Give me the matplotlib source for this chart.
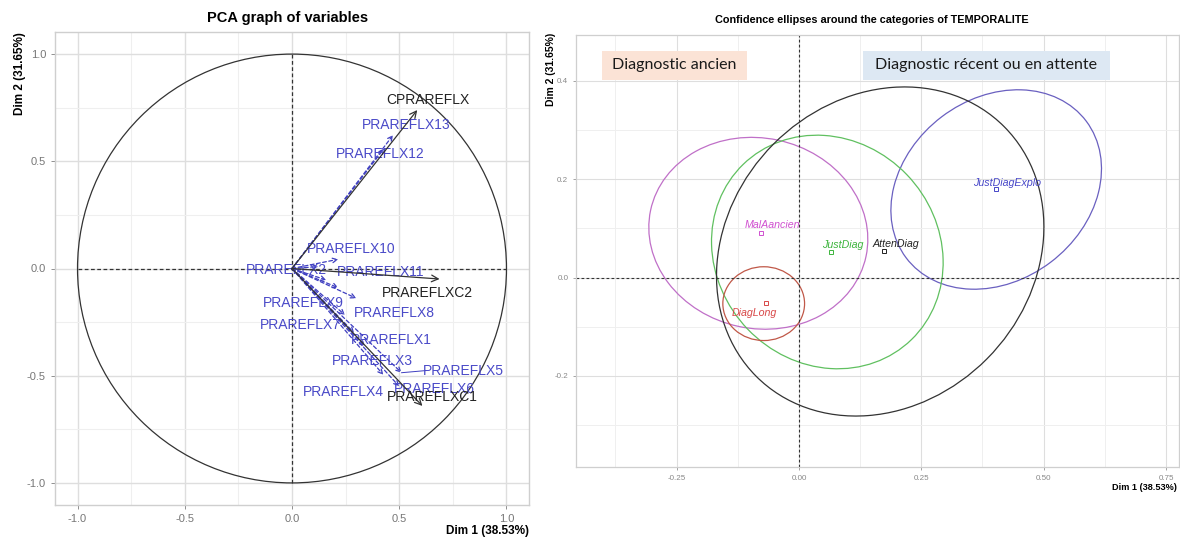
import numpy as np
import matplotlib
matplotlib.use("Agg")
import matplotlib.pyplot as plt
from matplotlib.patches import Ellipse, Circle, Rectangle

plt.rcParams['font.family'] = ['Liberation Sans', 'DejaVu Sans']

# ---------------- Left panel data: PCA graph of variables ----------------
active_names = ["CPRAREFLX", "PRAREFLXC2", "PRAREFLXC1"]
active_x = [0.584, 0.688, 0.608]
active_y = [0.739, -0.049, -0.641]
active_lab_x = [0.632, 0.632, 0.656]
active_lab_y = [0.786, -0.113, -0.598]

sup_names = ["PRAREFLX13", "PRAREFLX12", "PRAREFLX10", "PRAREFLX2", "PRAREFLX11",
             "PRAREFLX9", "PRAREFLX8", "PRAREFLX7", "PRAREFLX1", "PRAREFLX3",
             "PRAREFLX5", "PRAREFLX4", "PRAREFLX6"]
sup_x = [0.471, 0.430, 0.216, 0.123, 0.160, 0.216, 0.300, 0.247, 0.290, 0.340, 0.511, 0.426, 0.500]
sup_y = [0.622, 0.560, 0.043, 0.009, -0.054, -0.090, -0.139, -0.217, -0.300, -0.364, -0.486, -0.496, -0.550]
sup_lab_x = [0.532, 0.412, 0.278, -0.025, 0.415, 0.053, 0.479, 0.037, 0.463, 0.375, 0.800, 0.238, 0.664]
sup_lab_y = [0.669, 0.534, 0.091, -0.007, -0.015, -0.162, -0.209, -0.263, -0.333, -0.430, -0.476, -0.577, -0.562]

# ---------------- Right panel data: confidence ellipses ----------------
cat_names = ["JustDiagExplo", "MalAancien", "JustDiag", "AttenDiag", "DiagLong"]
cat_x = [0.402, -0.078, 0.065, 0.173, -0.067]
cat_y = [0.179, 0.090, 0.052, 0.054, -0.051]
cat_lab_x = [0.426, -0.054, 0.089, 0.198, -0.091]
cat_lab_y = [0.193, 0.107, 0.067, 0.069, -0.072]
ell_cx = [0.403, -0.083, 0.058, 0.166, -0.072]
ell_cy = [0.179, 0.090, 0.052, 0.053, -0.053]
ell_w = [0.461, 0.450, 0.495, 0.717, 0.167]
ell_h = [0.370, 0.387, 0.452, 0.617, 0.150]
ell_angle = [37, -12, -46, 45, 0]
cat_colors = ["#4646c8", "#d050d0", "#3cb43c", "#222222", "#d84848"]
ell_colors = ["#6a60c0", "#c070c8", "#60c060", "#333333", "#c05848"]

box_labels = ["Diagnostic ancien", "Diagnostic récent ou en attente"]

W, H = 1180, 542
fig = plt.figure(figsize=(W / 100, H / 100), dpi=100)
fig.patch.set_facecolor("white")


def px_axes(l, t, r, b):
    return fig.add_axes([l / W, (H - b) / H, (r - l) / W, (b - t) / H])


grid_major = "#dedede"
grid_minor = "#efefef"
border = "#cfcfcf"
tick_col = "#7f7f7f"

# ---------------- Left panel ----------------
ax = px_axes(55, 32, 529, 505)
ax.set_xlim(-1.105, 1.105)
ax.set_ylim(-1.103, 1.103)
ax.set_xticks([-1.0, -0.5, 0.0, 0.5, 1.0])
ax.set_yticks([-1.0, -0.5, 0.0, 0.5, 1.0])
ax.set_xticks([-0.75, -0.25, 0.25, 0.75], minor=True)
ax.set_yticks([-0.75, -0.25, 0.25, 0.75], minor=True)
ax.grid(which="major", color=grid_major, lw=1.0)
ax.grid(which="minor", color=grid_minor, lw=0.8)
ax.set_axisbelow(True)
ax.tick_params(which="major", colors=tick_col, labelsize=8, length=3, width=0.6, labelcolor="#777777")
ax.tick_params(which="minor", length=0)
ax.set_xticklabels(["-1.0", "-0.5", "0.0", "0.5", "1.0"])
ax.set_yticklabels(["-1.0", "-0.5", "0.0", "0.5", "1.0"])
for s in ax.spines.values():
    s.set_color(border)
    s.set_linewidth(1.0)

ax.add_patch(Circle((0, 0), 1.0, fill=False, color="#333333", lw=0.9))
ax.plot([-1, 1], [0, 0], ls=(0, (3, 2)), color="#333333", lw=0.9)
ax.plot([0, 0], [-1, 1], ls=(0, (3, 2)), color="#333333", lw=0.9)

sup_col = "#3e3ec0"
for x, y in zip(sup_x, sup_y):
    ax.annotate("", xy=(x, y), xytext=(0, 0),
                arrowprops=dict(arrowstyle="->", color=sup_col, lw=0.9,
                                linestyle=(0, (3, 2)), shrinkA=0, shrinkB=0,
                                mutation_scale=8))
for n, x, y in zip(sup_names, sup_lab_x, sup_lab_y):
    ax.text(x, y, n, color="#4a4ac8", fontsize=10, ha="center", va="center")
# segment for PRAREFLX5 label
ax.plot([sup_x[10], sup_lab_x[10] - 0.175], [sup_y[10], sup_lab_y[10]], color=sup_col, lw=0.7)

for x, y in zip(active_x, active_y):
    ax.annotate("", xy=(x, y), xytext=(0, 0),
                arrowprops=dict(arrowstyle="->", color="#333333", lw=0.9,
                                shrinkA=0, shrinkB=0, mutation_scale=12))
for n, x, y in zip(active_names, active_lab_x, active_lab_y):
    ax.text(x, y, n, color="#222222", fontsize=10, ha="center", va="center")

fig.text(288 / W, 1 - 18 / H, "PCA graph of variables", fontsize=10.5, fontweight="bold",
         ha="center", va="center")
fig.text(20 / W, 1 - 32 / H, "Dim 2 (31.65%)", fontsize=8.5, fontweight="bold",
         rotation=90, ha="center", va="top")
fig.text(529 / W, 1 - 531 / H, "Dim 1 (38.53%)", fontsize=8.5, fontweight="bold",
         ha="right", va="center")

# ---------------- Right panel ----------------
ax2 = px_axes(576, 35, 1179, 467)
ax2.set_xlim(-0.4555, 0.7765)
ax2.set_ylim(-0.385, 0.493)
ax2.set_xticks([-0.25, 0.0, 0.25, 0.5, 0.75])
ax2.set_xticklabels(["-0.25", "0.00", "0.25", "0.50", "0.75"])
ax2.set_yticks([-0.2, 0.0, 0.2, 0.4])
ax2.set_yticklabels(["-0.2", "0.0", "0.2", "0.4"])
ax2.set_xticks([-0.375, -0.125, 0.125, 0.375, 0.625], minor=True)
ax2.set_yticks([-0.3, -0.1, 0.1, 0.3], minor=True)
ax2.grid(which="major", color=grid_major, lw=0.8)
ax2.grid(which="minor", color=grid_minor, lw=0.7)
ax2.set_axisbelow(True)
ax2.tick_params(which="major", colors=tick_col, labelsize=5.8, length=2, width=0.5, labelcolor="#888888")
ax2.tick_params(which="minor", length=0)
for s in ax2.spines.values():
    s.set_color(border)
    s.set_linewidth(0.9)

ax2.axhline(0, ls=(0, (2.5, 2)), color="#333333", lw=0.8)
ax2.axvline(0, ls=(0, (2.5, 2)), color="#333333", lw=0.8)

for cx, cy, w, h, a, c in zip(ell_cx, ell_cy, ell_w, ell_h, ell_angle, ell_colors):
    ax2.add_patch(Ellipse((cx, cy), w, h, angle=a, fill=False, edgecolor=c, lw=0.9))

for n, x, y, lx, ly, c in zip(cat_names, cat_x, cat_y, cat_lab_x, cat_lab_y, cat_colors):
    ax2.plot([x], [y], marker="s", ms=3, mfc="none", mec=c, mew=0.7)
    ax2.text(lx, ly, n, color=c, fontsize=7.7, style="italic", ha="center", va="center")

fig.text(872 / W, 1 - 20 / H, "Confidence ellipses around the categories of TEMPORALITE",
         fontsize=7.8, fontweight="bold", ha="center", va="center")
fig.text(551 / W, 1 - 33 / H, "Dim 2 (31.65%)", fontsize=7.5, fontweight="bold",
         rotation=90, ha="center", va="top")
fig.text(1177 / W, 1 - 488 / H, "Dim 1 (38.53%)", fontsize=6.6, fontweight="bold",
         ha="right", va="center")

# overlay boxes
box_x0 = [602, 863]
box_x1 = [747, 1110]
box_colors = ["#fbe3d6", "#dde8f3"]
for lab, x0, x1, bc in zip(box_labels, box_x0, box_x1, box_colors):
    fig.patches.append(Rectangle((x0 / W, 1 - 80 / H), (x1 - x0) / W, 29 / H,
                                 transform=fig.transFigure, facecolor=bc, edgecolor="none", zorder=5))
    fig.text((x0 + x1) / 2 / W, 1 - 65.5 / H, lab, fontsize=11.5, family=["Lato", "DejaVu Sans"],
             color="#1a1a1a", ha="center", va="center", zorder=6)

fig.savefig("out.png", dpi=100)
